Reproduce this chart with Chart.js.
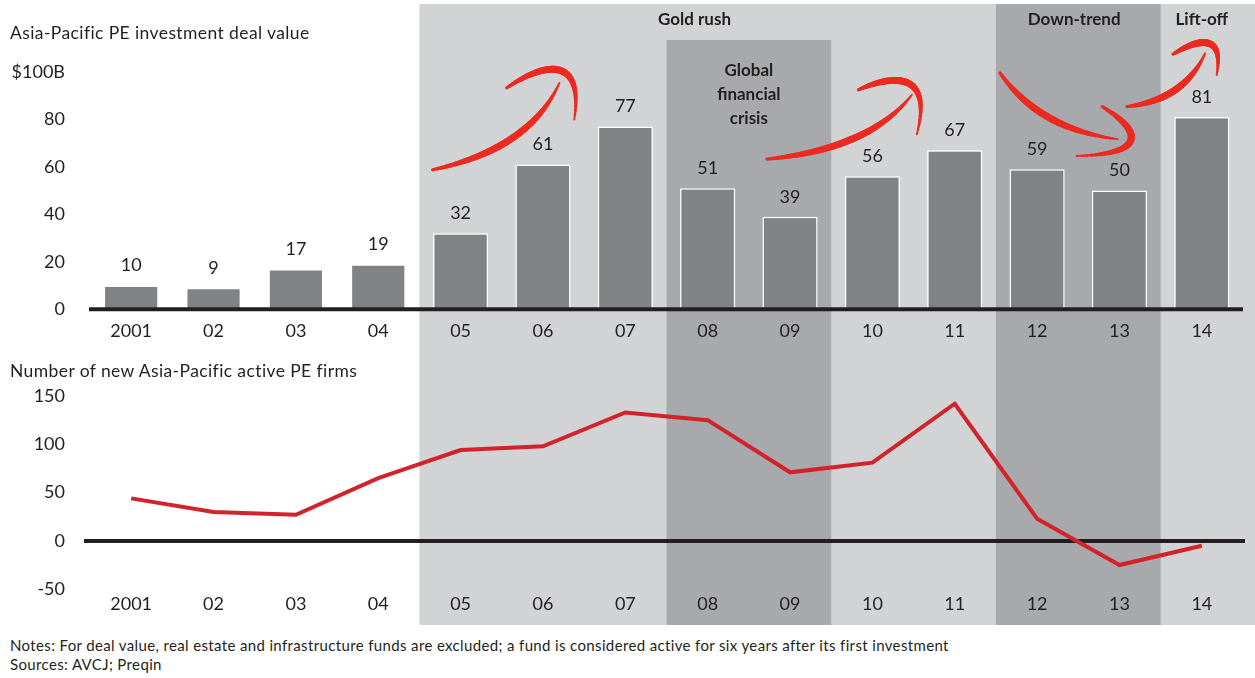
<!DOCTYPE html>
<html><head><meta charset="utf-8">
<script src="https://cdn.jsdelivr.net/npm/chart.js@4"></script>
<style>
html,body{margin:0;padding:0;background:#fff;width:1255px;height:678px;overflow:hidden;font-family:Lato,sans-serif;color:#231f20}
#top{position:absolute;left:0;top:0;width:1255px;height:345px}
#bot{position:absolute;left:0;top:345px;width:1255px;height:280px}
.t{position:absolute;left:10px;font-size:17.5px;letter-spacing:0.4px;line-height:20px;white-space:nowrap}
.n{position:absolute;left:10px;font-size:15px;letter-spacing:0.36px;line-height:18px;white-space:nowrap}
</style></head><body>
<div id="top"><canvas id="c1"></canvas></div>
<div id="bot"><canvas id="c2"></canvas></div>
<div class="t" style="top:23px">Asia-Pacific PE investment deal value</div>
<div class="t" style="top:361px">Number of new Asia-Pacific active PE firms</div>
<div class="n" style="top:636px">Notes: For deal value, real estate and infrastructure funds are excluded; a fund is considered active for six years after its first investment</div>
<div class="n" style="top:655px">Sources: AVCJ; Preqin</div>
<script>
const years = ['2001','02','03','04','05','06','07','08','09','10','11','12','13','14'];
const dealValue = [10,9,17,19,32,61,77,51,39,56,67,59,50,81];
const newFirms = [44,30,27,65,94,98,133,125,71,81,142,23,-25,-5];
const dealTicks = [0,20,40,60,80,100];
const firmTicks = [-50,0,50,100,150];

const INK = '#231f20';
const LIGHT = '#d1d3d4';
const DARK = '#a7a9ac';
const FONT = 'Lato, sans-serif';

// arrows in (category index, deal value) units
const arrows = [
  {shaft:[[3.66,58.8],[4.84,67.5],[5.20,95.4]], head:[[4.56,93.3],[5.02,104.2],[5.50,107],[5.38,80]]},
  {shaft:[[7.72,63.3],[8.97,67.5],[9.48,90.4]], head:[[8.83,92.5],[9.15,97.5],[9.76,102.9],[9.54,73.75]]},
  {shaft:[[10.55,99.6],[11.03,75.8],[11.98,71.7]], head:[[11.79,85.4],[12.25,75.8],[12.37,65.4],[11.48,64.6]]},
  {shaft:[[12.09,85.4],[12.79,88.3],[13.04,107.9]], head:[[12.65,107.5],[12.92,113.3],[13.28,117.5],[13.18,98.75]]}
];

function edges(chart){
  const x = chart.scales.x;
  const half = (x.getPixelForValue(1) - x.getPixelForValue(0)) / 2;
  return i => x.getPixelForValue(i) - half;
}
function shading(topLight, topGfc, topDown){
  return {
    id:'shade',
    beforeDraw(chart){
      const ctx = chart.ctx, L = edges(chart), H = chart.height, W = chart.width;
      ctx.save();
      ctx.fillStyle = LIGHT;
      ctx.fillRect(L(4), topLight, W - L(4), H - topLight);
      ctx.fillStyle = DARK;
      ctx.fillRect(L(7), topGfc, L(9) - L(7), H - topGfc);
      ctx.fillRect(L(11), topDown, L(13) - L(11), H - topDown);
      ctx.restore();
    }
  };
}
function zeroLine(when, extL, extR){
  const p = {id:'zero'};
  p[when] = function(chart){
    const ctx = chart.ctx, y = chart.scales.y.getPixelForValue(0), a = chart.chartArea;
    ctx.save();
    ctx.strokeStyle = INK; ctx.lineWidth = 4;
    ctx.beginPath(); ctx.moveTo(a.left - extL, y); ctx.lineTo(a.right + extR, y); ctx.stroke();
    ctx.restore();
  };
  return p;
}
function bez(pts, t){
  if (pts.length === 3){
    const [a,b,c] = pts, u = 1-t;
    return [u*u*a[0]+2*u*t*b[0]+t*t*c[0], u*u*a[1]+2*u*t*b[1]+t*t*c[1]];
  }
  const [a,b,c,d] = pts, u = 1-t;
  return [u*u*u*a[0]+3*u*u*t*b[0]+3*u*t*t*c[0]+t*t*t*d[0], u*u*u*a[1]+3*u*u*t*b[1]+3*u*t*t*c[1]+t*t*t*d[1]];
}
function brush(ctx, pts, maxW){
  const N = 40;
  let prev = bez(pts, 0);
  for (let i = 1; i <= N; i++){
    const t = i / N, p = bez(pts, t);
    ctx.lineWidth = 1 + maxW * Math.sin(Math.PI * Math.min(1, (t * 0.85 + 0.1)));
    ctx.beginPath(); ctx.moveTo(prev[0], prev[1]); ctx.lineTo(p[0], p[1]); ctx.stroke();
    prev = p;
  }
}
const arrowPlugin = {
  id:'arrows',
  afterDatasetsDraw(chart){
    const ctx = chart.ctx, x = chart.scales.x, y = chart.scales.y;
    const P = q => [x.getPixelForValue(q[0]), y.getPixelForValue(q[1])];
    ctx.save();
    ctx.strokeStyle = '#ec2a20'; ctx.lineCap = 'round';
    arrows.forEach(a => {
      brush(ctx, a.shaft.map(P), 6);
      brush(ctx, a.head.map(P), 6);
    });
    ctx.restore();
  }
};
const labelPlugin = {
  id:'labels',
  afterDatasetsDraw(chart){
    const ctx = chart.ctx, meta = chart.getDatasetMeta(0), x = chart.scales.x;
    ctx.save();
    ctx.fillStyle = INK; ctx.textAlign = 'center'; ctx.textBaseline = 'middle';
    ctx.font = '18px ' + FONT;
    meta.data.forEach((bar, i) => ctx.fillText(String(dealValue[i]), bar.x, bar.y - 20));
    ctx.font = 'bold 17px ' + FONT;
    ctx.fillText('Gold rush', x.getPixelForValue(6.84), 20);
    ctx.fillText('Down-trend', x.getPixelForValue(11.45), 20);
    ctx.fillText('Lift-off', x.getPixelForValue(13), 20);
    ['Global','financial','crisis'].forEach((s, k) => ctx.fillText(s, x.getPixelForValue(7.5), 71 + k * 24));
    ctx.restore();
  }
};

Chart.defaults.font.family = FONT;
Chart.defaults.color = INK;

new Chart(document.getElementById('c1'), {
  type:'bar',
  data:{labels:years, datasets:[{data:dealValue, backgroundColor:'#808285', borderColor:'#ffffff', borderWidth:1.5, borderSkipped:'bottom', barPercentage:0.67, categoryPercentage:1}]},
  options:{
    responsive:true, maintainAspectRatio:false, animation:false,
    layout:{padding:{top:72, right:12, left:0, bottom:0}},
    plugins:{legend:{display:false}, tooltip:{enabled:false}},
    scales:{
      x:{grid:{display:false, drawTicks:false}, border:{display:false},
         ticks:{font:{size:18}, color:INK, padding:11, maxRotation:0, autoSkip:false},
         afterFit(s){ s.height = 33; }},
      y:{min:0, max:100, grid:{display:false, drawTicks:false}, border:{display:false},
         afterBuildTicks(s){ s.ticks = dealTicks.map(v => ({value:v})); },
         ticks:{font:{size:18}, color:INK, padding:25, callback:v => v === 100 ? '$100B' : v},
         afterFit(s){ s.width = 90; }}
    }
  },
  plugins:[shading(4, 40, 4), zeroLine('afterDatasetsDraw', 1, 0), labelPlugin, arrowPlugin]
});

new Chart(document.getElementById('c2'), {
  type:'line',
  data:{labels:years, datasets:[{data:newFirms, borderColor:'#d2232a', borderWidth:4, pointRadius:0, tension:0, fill:false}]},
  options:{
    responsive:true, maintainAspectRatio:false, animation:false,
    layout:{padding:{top:51, right:12, left:0, bottom:0}},
    plugins:{legend:{display:false}, tooltip:{enabled:false}},
    scales:{
      x:{offset:true, grid:{display:false, drawTicks:false}, border:{display:false},
         ticks:{font:{size:18}, color:INK, padding:4, maxRotation:0, autoSkip:false},
         afterFit(s){ s.height = 31; }},
      y:{min:-50, max:150, grid:{display:false, drawTicks:false}, border:{display:false},
         afterBuildTicks(s){ s.ticks = firmTicks.map(v => ({value:v})); },
         ticks:{font:{size:18}, color:INK, padding:25},
         afterFit(s){ s.width = 90; }}
    }
  },
  plugins:[shading(0, 0, 0), zeroLine('beforeDatasetsDraw', 6, 2)]
});
</script>
</body></html>
